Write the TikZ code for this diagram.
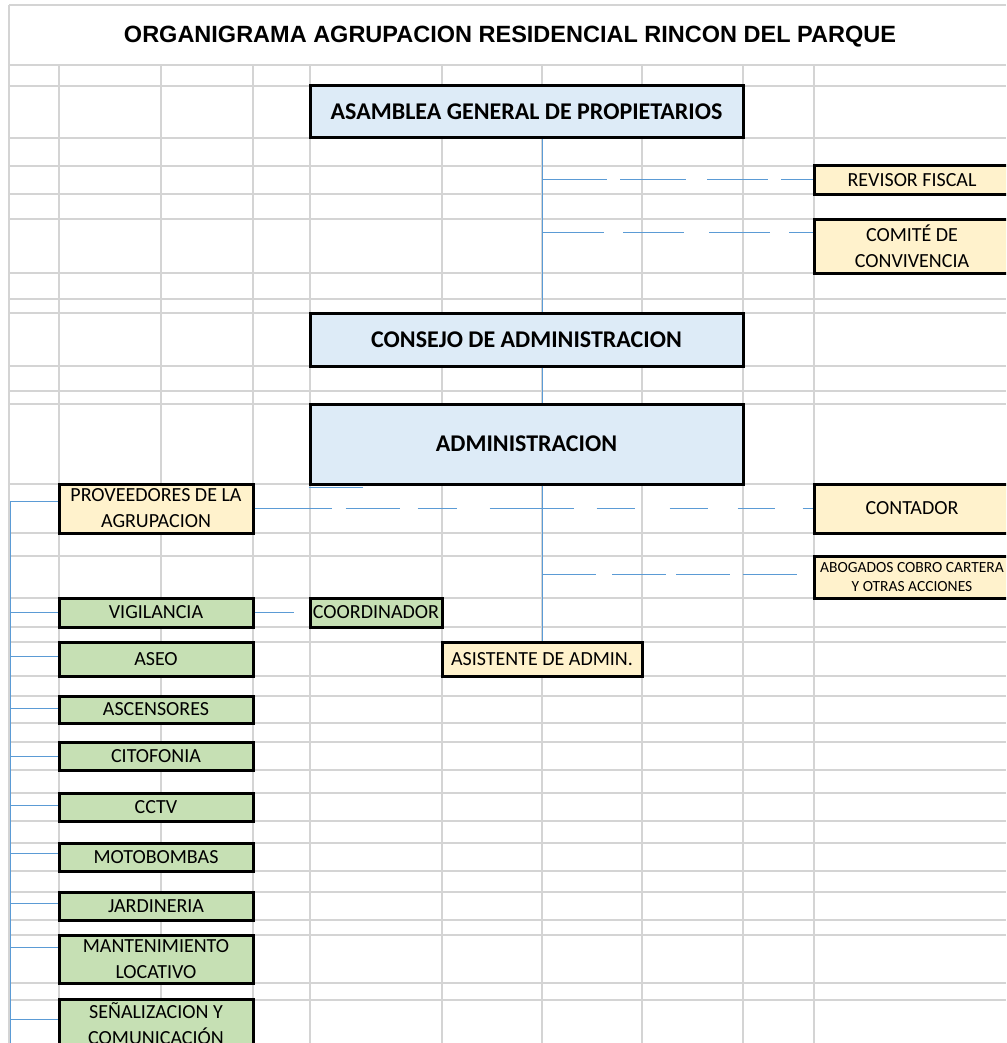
\documentclass[tikz,border=0pt]{standalone}
\usepackage{fontspec}
\setmainfont{Carlito}
\newfontfamily\titlefont{Liberation Sans}
\usepackage{xcolor}
\usepackage{tikz}
\usetikzlibrary{calc}
\definecolor{gridgray}{RGB}{212,212,212}
\definecolor{linkblue}{RGB}{91,155,213}
\definecolor{boxblue}{RGB}{221,235,247}
\definecolor{boxyellow}{RGB}{255,242,204}
\definecolor{boxgreen}{RGB}{198,224,180}
\tikzset{
  gridline/.style={draw=gridgray, line width=1.2pt},
  box/.style={rectangle, draw=black, line width=3pt, inner sep=0pt, align=center, font=\fontsize{20}{26}\selectfont},
  bluebox/.style={box, fill=boxblue, minimum width=433pt, font=\fontsize{24}{28}\selectfont\bfseries},
  yellowbox/.style={box, fill=boxyellow},
  greenbox/.style={box, fill=boxgreen, minimum width=194pt},
  link/.style={draw=linkblue, line width=1pt},
  dashlink/.style={link, dash pattern=on 60pt off 16pt}, % hand-drawn dashes, overridden per line
  heading/.style={font=\titlefont\fontsize{23.5}{28}\selectfont\bfseries, anchor=base}
}

\begin{document}
\begin{tikzpicture}[x=1pt, y=-1pt]
  \clip (0,0) rectangle (1006,1043);

  % Spreadsheet grid
  \draw[gridline] (9,5) -- (1006,5);
  \draw[gridline] (9,5) -- (9,1043);
  \foreach \gx in {59,161,253,310,442,542,642,743,814}
    \draw[gridline] (\gx,65) -- (\gx,1043);
  \foreach \gy in {65,86,138,166,194,219,273,299,313,366,391,404,484,533,556,598,627,642,676,696,723,742,770,793,821,843,871,892,920,935,983,1000}
    \draw[gridline] (9,\gy) -- (1006,\gy);

  % Title
  \node[heading] (title) at (510,43) {ORGANIGRAMA AGRUPACION RESIDENCIAL RINCON DEL PARQUE};

  % Main chain
  \node[bluebox, minimum height=52pt] (asamblea) at (526.5,112) {ASAMBLEA GENERAL DE PROPIETARIOS};
  \node[bluebox, minimum height=53pt] (consejo) at (526.5,339.5) {CONSEJO DE ADMINISTRACION};
  \node[bluebox, minimum height=80pt] (admin) at (526.5,444) {ADMINISTRACION};
  \node[yellowbox, minimum width=200pt, minimum height=34pt] (asistente) at (542,659) {ASISTENTE DE ADMIN.};

  % Advisory boxes (right)
  \node[yellowbox, minimum width=196pt, minimum height=28pt] (revisor) at (912,180) {REVISOR FISCAL};
  \node[yellowbox, minimum width=196pt, minimum height=54pt] (comite) at (912,246) {COMITÉ DE\\CONVIVENCIA};
  \node[yellowbox, minimum width=196pt, minimum height=49pt] (contador) at (912,508.5) {CONTADOR};
  \node[yellowbox, minimum width=196pt, minimum height=42pt, font=\fontsize{15.5}{19}\selectfont] (abogados) at (912,577) {ABOGADOS COBRO CARTERA\\Y OTRAS ACCIONES};

  % Suppliers (left column)
  \node[yellowbox, minimum width=194pt, minimum height=49pt] (proveedores) at (156,508.5) {PROVEEDORES DE LA\\AGRUPACION};
  \node[greenbox, minimum height=29pt] (vigilancia) at (156,612.5) {VIGILANCIA};
  \node[greenbox, minimum width=132pt, minimum height=29pt] (coordinador) at (376,612.5) {COORDINADOR};
  \node[greenbox, minimum height=34pt] (aseo) at (156,659) {ASEO};
  \node[greenbox, minimum height=27pt] (ascensores) at (156,709.5) {ASCENSORES};
  \node[greenbox, minimum height=28pt] (citofonia) at (156,756) {CITOFONIA};
  \node[greenbox, minimum height=28pt] (cctv) at (156,807) {CCTV};
  \node[greenbox, minimum height=28pt] (motobombas) at (156,857) {MOTOBOMBAS};
  \node[greenbox, minimum height=28pt] (jardineria) at (156,906) {JARDINERIA};
  \node[greenbox, minimum height=48pt] (mantenimiento) at (156,959) {MANTENIMIENTO\\LOCATIVO};
  \node[greenbox, minimum height=50pt] (senalizacion) at (156,1024) {SEÑALIZACION Y\\COMUNICACIÓN};

  % Trunk (solid) and advisory links (dashed)
  \coordinate (trunk) at (542,0);
  \draw[link] (asamblea.south -| trunk) -- (consejo.north -| trunk);
  \draw[link] (consejo.south -| trunk) -- (admin.north -| trunk);
  \draw[link] (admin.south -| trunk) -- (asistente.north);
  \draw[dashlink, dash pattern=on 65pt off 13pt on 66pt off 21pt on 61pt off 13pt on 80pt] (revisor.west -| trunk) -- (revisor.west);
  \coordinate (comitein) at ([yshift=14pt]comite.west);
  \draw[dashlink, dash pattern=on 62pt off 19pt on 61pt off 25pt on 61pt off 19pt on 80pt] (comitein -| trunk) -- (comitein);
  \draw[dashlink, dash pattern=on 77pt off 14pt on 54pt off 18pt on 39pt off 33pt on 84pt off 23pt on 38pt off 35pt on 38pt off 30pt on 37pt off 28pt on 20pt] (proveedores.east) -- (contador.west);
  \coordinate (abogadosin) at ([yshift=3pt]abogados.west);
  \draw[dashlink, dash pattern=on 54pt off 16pt on 54pt off 10pt on 54pt off 13pt on 54pt off 20pt] (abogadosin -| trunk) -- (abogadosin);
  \draw[dashlink, dash pattern=on 39pt off 40pt] (vigilancia.east) -- (coordinador.west);
  \coordinate (straystart) at ([yshift=-2pt]admin.south west);
  \draw[link] (straystart) -- ++(54,0);

  % Left bus
  \coordinate (bustop) at (10,501);
  \coordinate (busend) at (10,1043);
  \draw[link] (bustop) -- (busend);
  \foreach \n/\dy in {proveedores/7pt, vigilancia/0pt, aseo/3pt, ascensores/1pt, citofonia/0pt, cctv/2pt, motobombas/4pt, jardineria/3pt, mantenimiento/12pt, senalizacion/5pt}{
    \coordinate (stub) at ([yshift=\dy]\n.west);
    \draw[link] (stub -| bustop) -- (stub);
  }
\end{tikzpicture}
\end{document}
